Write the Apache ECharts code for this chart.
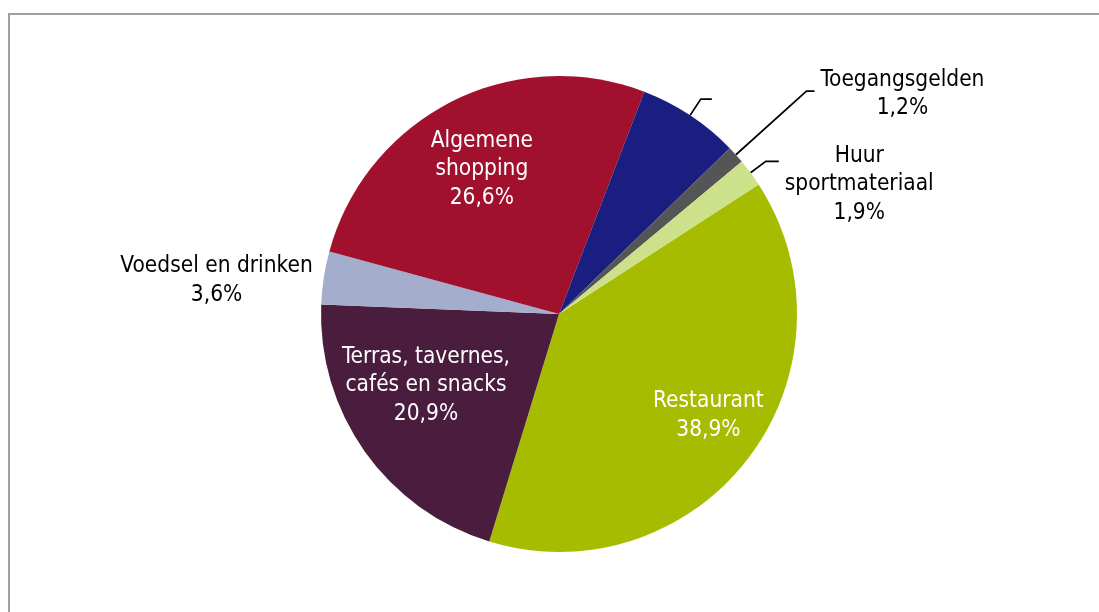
<!DOCTYPE html>
<html>
<head>
<meta charset="utf-8">
<script src="https://cdn.jsdelivr.net/npm/echarts@6/dist/echarts.min.js"></script>
<style>
html, body { margin: 0; padding: 0; background: #ffffff; }
#chart { width: 1099px; height: 612px; }
</style>
</head>
<body>
<div id="chart"></div>
<script>
// Categories in clockwise order (starting at the Restaurant slice)
const categories = ['Restaurant', 'Terras, tavernes,\ncafés en snacks', 'Voedsel en drinken', 'Algemene\nshopping', '', 'Toegangsgelden', 'Huur\nsportmateriaal'];
// Shares in percent
const values = [38.9, 20.9, 3.6, 26.6, 6.9, 1.2, 1.9];
const colors = ['#A6BC00', '#4A1C3D', '#A4ADCB', '#A1112E', '#1A1E80', '#555555', '#CDE08A'];

const FONT = '"DejaVu Sans Condensed", "DejaVu Sans", sans-serif';
const FS = 22.5;
const LH = 28.5;

// per-slice label placement (inside vs outside) and fine tuning
const labelCfg = [
  { inside: true, offset: [52, 28] },
  { inside: true, offset: [-33.5, 1] },
  { inside: false, offset: [0, 3], line: { show: false, length: 0, length2: 5 } },
  { inside: true, offset: [-22, -36] },
  { inside: false, offset: [0, 0], line: { show: true, length: 19.5, length2: 11 } },
  { inside: false, offset: [0, 3], line: { show: true, length: 95, length2: 8 } },
  { inside: false, offset: [0, 23], line: { show: true, length: 19, length2: 13 } }
];

function formatLabel(p) {
  if (!p.name) return ' ';
  const tag = labelCfg[p.dataIndex].inside ? 'w' : 'k';
  const pct = p.value.toFixed(1).replace('.', ',') + '%';
  return p.name.split('\n').concat([pct]).map(function (l) { return '{' + tag + '|' + l + '}'; }).join('\n');
}

const data = categories.map(function (name, i) {
  const cfg = labelCfg[i];
  const item = {
    name: name,
    value: values[i],
    itemStyle: { color: colors[i] },
    label: { position: cfg.inside ? 'inside' : 'outside', offset: cfg.offset }
  };
  if (!cfg.inside) {
    item.labelLine = cfg.line;
  }
  return item;
});

const chart = echarts.init(document.getElementById('chart'), null, { renderer: 'canvas' });
chart.setOption({
  animation: false,
  backgroundColor: '#ffffff',
  graphic: [{
    type: 'rect',
    silent: true,
    shape: { x: 9, y: 14, width: 1200, height: 700 },
    style: { fill: 'none', stroke: '#A0A0A0', lineWidth: 2 }
  }],
  series: [{
    type: 'pie',
    center: [559, 314],
    radius: 238,
    startAngle: 33,
    clockwise: true,
    avoidLabelOverlap: false,
    emphasis: { disabled: true },
    itemStyle: { borderWidth: 0 },
    label: {
      show: true,
      formatter: formatLabel,
      fontFamily: FONT,
      fontSize: FS,
      lineHeight: LH,
      distanceToLabelLine: 6,
      alignTo: 'none',
      rich: {
        w: { align: 'center', color: '#ffffff', fontFamily: FONT, fontSize: FS, lineHeight: LH },
        k: { align: 'center', color: '#000000', fontFamily: FONT, fontSize: FS, lineHeight: LH }
      }
    },
    labelLine: {
      show: true,
      smooth: false,
      lineStyle: { color: '#000000', width: 1.7 }
    },
    data: data
  }]
});
</script>
</body>
</html>
